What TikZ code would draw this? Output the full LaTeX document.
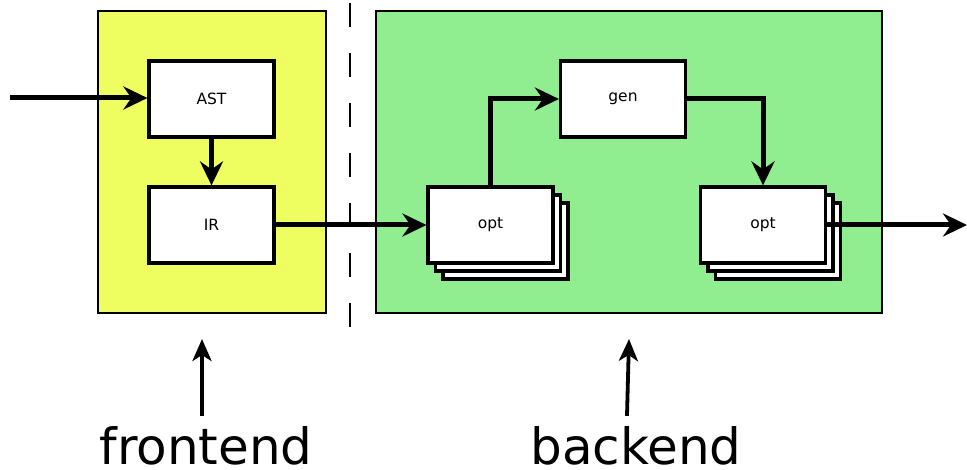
\documentclass[tikz,border=0pt]{standalone}
\usepackage{fontspec}
\setmainfont{DejaVu Sans}
\usetikzlibrary{arrows.meta}
\definecolor{feyellow}{RGB}{238,253,95}
\definecolor{begreen}{RGB}{144,238,144}
\begin{document}
\begin{tikzpicture}[x=1pt,y=-1pt,
  stage/.style={draw, line width=2.4pt, inner sep=0pt},
  block/.style={draw, fill=white, line width=3.2pt, inner sep=0pt,
    minimum width=125pt, minimum height=76pt,
    font=\fontsize{15.5}{18}\selectfont},
  card/.style={draw, fill=white, line width=3.2pt, inner sep=0pt,
    minimum width=125pt, minimum height=76pt},
  flow/.style={line width=5pt, -{Stealth[length=24pt,width=23pt,inset=8pt]}},
  pointer/.style={line width=3.8pt, -{Stealth[length=22pt,width=19pt,inset=6pt]}},
  caption/.style={font=\fontsize{50}{60}\selectfont, anchor=base,
    inner sep=0pt, text depth=0pt}]
\useasboundingbox (0,0) rectangle (967,470);

% stage containers
\node[stage, fill=feyellow, minimum width=228pt, minimum height=302pt] (front) at (212,162) {};
\node[stage, fill=begreen, minimum width=506pt, minimum height=302pt] (back) at (629,162) {};

% separator between stages
\coordinate (septop) at (350,3);
\coordinate (sepbot) at (350,330);
\draw[line width=1.6pt, dash pattern=on 24pt off 26pt] (septop) -- (sepbot);

% frontend blocks
\node[block] (ast) at (211.5,99) {AST};
\node[block] (ir) at (211.5,225) {IR};

% backend blocks
\node[block] (gen) at (623,99) {gen};
\node[card] (optAc) at (505.5,241) {};
\node[card] (optAb) at (498,233) {};
\node[block] (optA) at (490.5,225) {opt};
\node[card] (optBc) at (778,241) {};
\node[card] (optBb) at (770.5,233) {};
\node[block] (optB) at (763,225) {opt};

% data flow
\coordinate (in) at (10,98);
\coordinate (out) at (967,225);
\draw[flow] (in) -- (ast.west |- in);
\draw[flow] (ast.south) -- (ir.north);
\draw[flow] (ir.east) -- (optA.west);
\draw[flow] (optA.north) |- (gen.west);
\draw[flow] (gen.east) -| (optB.north);
\draw[flow] (optB.east) -- (out);

% captions
\node[caption] (fe) at (206,464) {frontend};
\node[caption] (be) at (636,464) {backend};
\coordinate (fetip) at (202,339);
\coordinate (betip) at (629,339);
\draw[pointer] ([yshift=10pt]fe.north -| fetip) -- (fetip);
\draw[pointer] ([yshift=10pt]be.north -| 627,0) -- (betip);
\end{tikzpicture}
\end{document}
